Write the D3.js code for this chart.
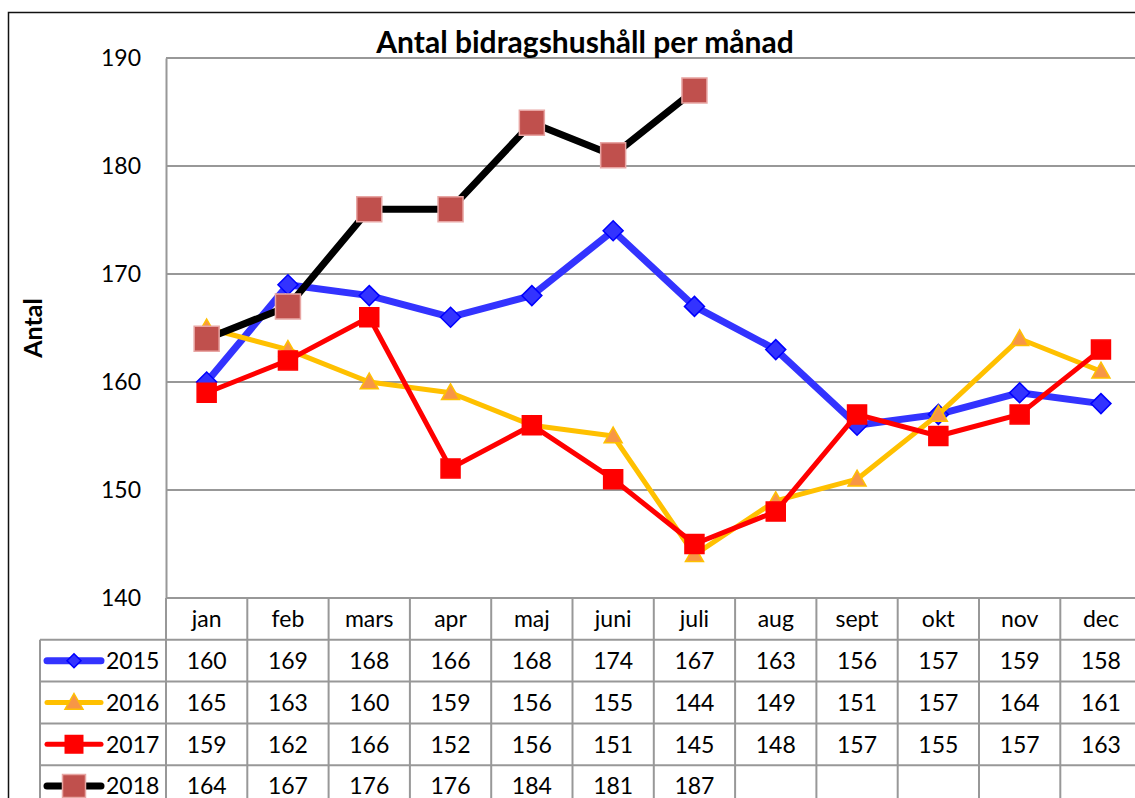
<!DOCTYPE html>
<html>
<head>
<meta charset="utf-8">
<script src="https://cdn.jsdelivr.net/npm/d3@7"></script>
<style>
  html, body { margin: 0; padding: 0; background: #fff; overflow: hidden; }
  svg { display: block; font-family: Lato, "Open Sans", sans-serif; }
</style>
</head>
<body>
<div id="chart"></div>
<script>
var months = ["jan", "feb", "mars", "apr", "maj", "juni", "juli", "aug", "sept", "okt", "nov", "dec"];
var years = ["2015", "2016", "2017", "2018"];
var v2015 = [160, 169, 168, 166, 168, 174, 167, 163, 156, 157, 159, 158];
var v2016 = [165, 163, 160, 159, 156, 155, 144, 149, 151, 157, 164, 161];
var v2017 = [159, 162, 166, 152, 156, 151, 145, 148, 157, 155, 157, 163];
var v2018 = [164, 167, 176, 176, 184, 181, 187];
var yTicks = [140, 150, 160, 170, 180, 190];

var series = [
  { name: years[0], values: v2015, line: "#3333ff", width: 7, shape: "diamond", fill: "#3333ff", stroke: "#0000ff", size: 20 },
  { name: years[1], values: v2016, line: "#ffc000", width: 5, shape: "triangle", fill: "#f79646", stroke: "#ffc000", size: 18 },
  { name: years[2], values: v2017, line: "#ff0000", width: 5, shape: "square", fill: "#ff0000", stroke: "#ff0000", size: 19 },
  { name: years[3], values: v2018, line: "#000000", width: 7, shape: "square", fill: "#c0504d", stroke: "#e8a6a4", size: 25 }
];

var W = 1135, H = 798;
var plotLeft = 166, plotTop = 58, plotBottom = 598, colW = 81.3, rowH = 41.8, legendLeft = 40;
var plotRight = plotLeft + colW * months.length;
var grid = "#989898";
var fs = 23;

var svg = d3.select("#chart").append("svg").attr("width", W).attr("height", H);

// outer chart border
svg.append("rect")
  .attr("x", 8.5).attr("y", 12.5).attr("width", 1200).attr("height", 900)
  .attr("fill", "none").attr("stroke", "#111").attr("stroke-width", 1.5);

var x = d3.scaleBand().domain(months).range([plotLeft, plotRight]);
var y = d3.scaleLinear().domain([140, 190]).range([plotBottom, plotTop]);

// horizontal gridlines
svg.append("g").selectAll("line")
  .data(yTicks.slice(1))
  .enter().append("line")
  .attr("x1", plotLeft).attr("x2", plotRight)
  .attr("y1", function (d) { return y(d); })
  .attr("y2", function (d) { return y(d); })
  .attr("stroke", grid).attr("stroke-width", 2);

// y axis
var yAxis = svg.append("g")
  .attr("transform", "translate(" + plotLeft + ",0)")
  .call(d3.axisLeft(y).tickValues(yTicks).tickSize(0).tickPadding(25));
yAxis.select(".domain").attr("stroke", grid).attr("stroke-width", 2);
yAxis.selectAll("text").attr("font-size", fs).attr("fill", "#000")
  .attr("font-family", "Lato, sans-serif");

svg.append("text")
  .attr("transform", "translate(42,328) rotate(-90)")
  .attr("text-anchor", "middle")
  .attr("font-size", 25).attr("font-weight", "bold")
  .text("Antal");

svg.append("text")
  .attr("x", 585).attr("y", 53)
  .attr("text-anchor", "middle")
  .attr("font-size", 30).attr("font-weight", "bold")
  .text("Antal bidragshushåll per månad");

function symbolPath(shape, size) {
  var h = size / 2;
  if (shape === "diamond") return "M0," + (-h) + "L" + h + ",0L0," + h + "L" + (-h) + ",0Z";
  if (shape === "triangle") return "M0," + (-h) + "L" + h + "," + (h * 0.75) + "L" + (-h) + "," + (h * 0.75) + "Z";
  return "M" + (-h) + "," + (-h) + "h" + size + "v" + size + "h" + (-size) + "Z";
}

var line = d3.line()
  .x(function (d, i) { return x(months[i]) + x.bandwidth() / 2; })
  .y(function (d) { return y(d); });

series.forEach(function (s) {
  var g = svg.append("g");
  g.append("path")
    .attr("d", line(s.values))
    .attr("fill", "none").attr("stroke", s.line)
    .attr("stroke-width", s.width).attr("stroke-linejoin", "round");
  g.selectAll("path.m")
    .data(s.values)
    .enter().append("path").attr("class", "m")
    .attr("d", symbolPath(s.shape, s.size))
    .attr("transform", function (d, i) {
      return "translate(" + (x(months[i]) + x.bandwidth() / 2) + "," + y(d) + ")";
    })
    .attr("fill", s.fill).attr("stroke", s.stroke).attr("stroke-width", 1.5);
});

// data table
var table = svg.append("g");
var tableBottom = plotBottom + rowH * (years.length + 1) + 20;
// column separators
table.selectAll("line.v")
  .data(d3.range(months.length + 1))
  .enter().append("line").attr("class", "v")
  .attr("x1", function (i) { return plotLeft + i * colW; })
  .attr("x2", function (i) { return plotLeft + i * colW; })
  .attr("y1", plotBottom).attr("y2", tableBottom)
  .attr("stroke", grid).attr("stroke-width", 2);
table.append("line")
  .attr("x1", legendLeft).attr("x2", legendLeft)
  .attr("y1", plotBottom + rowH).attr("y2", tableBottom)
  .attr("stroke", grid).attr("stroke-width", 2);
// row separators
table.append("line")
  .attr("x1", plotLeft).attr("x2", plotRight)
  .attr("y1", plotBottom).attr("y2", plotBottom)
  .attr("stroke", grid).attr("stroke-width", 2);
table.selectAll("line.h")
  .data(d3.range(1, years.length + 1))
  .enter().append("line").attr("class", "h")
  .attr("x1", legendLeft).attr("x2", plotRight)
  .attr("y1", function (i) { return plotBottom + i * rowH; })
  .attr("y2", function (i) { return plotBottom + i * rowH; })
  .attr("stroke", grid).attr("stroke-width", 2);

table.selectAll("text.cat")
  .data(months)
  .enter().append("text").attr("class", "cat")
  .attr("x", function (d) { return x(d) + x.bandwidth() / 2; })
  .attr("y", plotBottom + rowH / 2)
  .attr("dy", "0.36em")
  .attr("text-anchor", "middle").attr("font-size", fs)
  .text(function (d) { return d; });

series.forEach(function (s, r) {
  var cy = plotBottom + rowH * (r + 1.5);
  table.append("line")
    .attr("x1", 47).attr("x2", 101).attr("y1", cy).attr("y2", cy)
    .attr("stroke", s.line).attr("stroke-width", s.width).attr("stroke-linecap", "round");
  var ms = s.shape === "diamond" ? 14 : s.size;
  table.append("path")
    .attr("d", symbolPath(s.shape, ms * (s.shape === "square" ? 0.92 : 1)))
    .attr("transform", "translate(74," + cy + ")")
    .attr("fill", s.fill).attr("stroke", s.stroke).attr("stroke-width", 1.5);
  table.append("text")
    .attr("x", 106).attr("y", cy).attr("dy", "0.36em")
    .attr("font-size", fs).text(s.name);
  table.selectAll("text.v" + r)
    .data(s.values)
    .enter().append("text").attr("class", "v" + r)
    .attr("x", function (d, i) { return x(months[i]) + x.bandwidth() / 2; })
    .attr("y", cy).attr("dy", "0.36em")
    .attr("text-anchor", "middle").attr("font-size", fs)
    .text(function (d) { return d; });
});
</script>
</body>
</html>
